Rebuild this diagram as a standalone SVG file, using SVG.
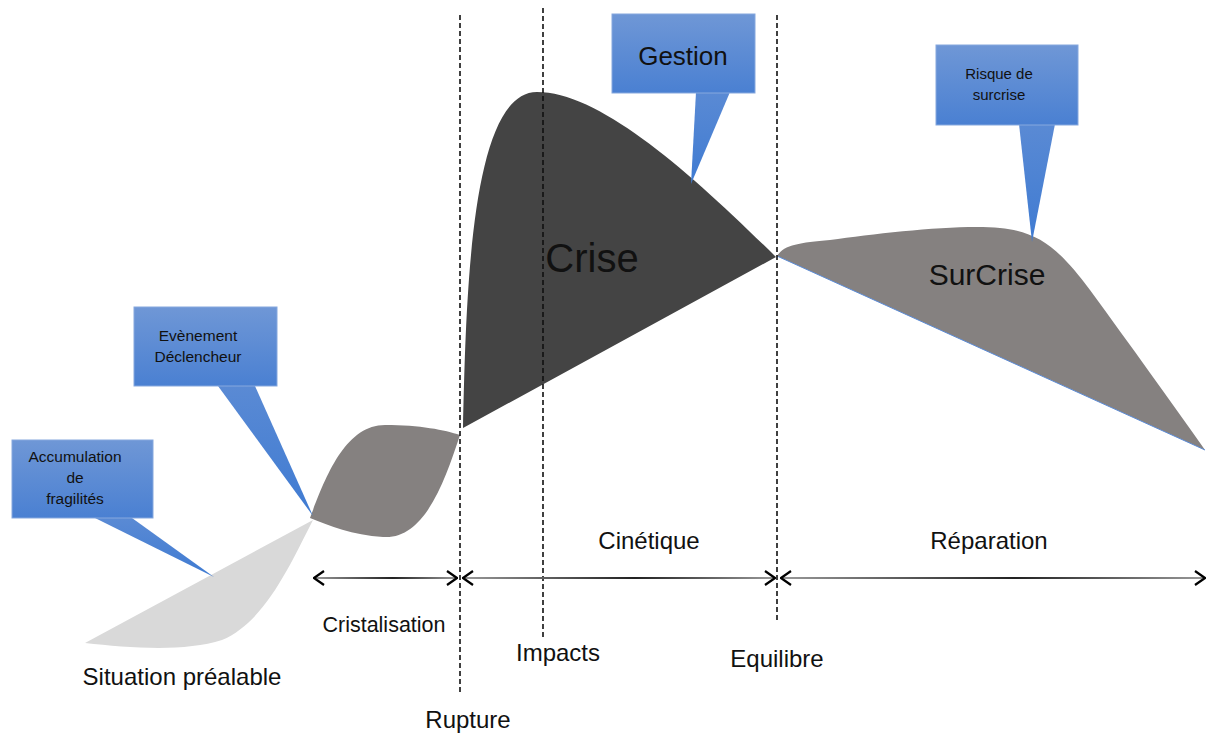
<svg xmlns="http://www.w3.org/2000/svg" width="1208" height="735" viewBox="0 0 1208 735">
<defs>
<linearGradient id="blue" x1="0" y1="0" x2="0" y2="1">
<stop offset="0" stop-color="#6f97d6"/>
<stop offset="1" stop-color="#4a80d2"/>
</linearGradient>
<linearGradient id="blueP" x1="0" y1="0" x2="0" y2="1">
<stop offset="0" stop-color="#5a8ad4"/>
<stop offset="1" stop-color="#3f7bd2"/>
</linearGradient>
<linearGradient id="arr1" gradientUnits="userSpaceOnUse" x1="314" y1="0" x2="457" y2="0">
<stop offset="0" stop-color="#999"/><stop offset="0.55" stop-color="#222"/><stop offset="1" stop-color="#999"/>
</linearGradient>
<linearGradient id="arr2" gradientUnits="userSpaceOnUse" x1="463" y1="0" x2="775" y2="0">
<stop offset="0" stop-color="#999"/><stop offset="0.55" stop-color="#222"/><stop offset="1" stop-color="#999"/>
</linearGradient>
<linearGradient id="arr3" gradientUnits="userSpaceOnUse" x1="781" y1="0" x2="1205" y2="0">
<stop offset="0" stop-color="#999"/><stop offset="0.55" stop-color="#222"/><stop offset="1" stop-color="#999"/>
</linearGradient>
<marker id="chev" viewBox="0 0 12 16" refX="11" refY="8" markerWidth="12" markerHeight="16" markerUnits="userSpaceOnUse" orient="auto-start-reverse">
<path d="M1,1 L11,8 L1,15" fill="none" stroke="#000" stroke-width="2.2"/>
</marker>
</defs>
<style>
.lbl{font-family:"Liberation Sans",Arial,sans-serif;fill:#111;text-anchor:middle}
.box{fill:url(#blue);stroke:#86a8de;stroke-width:1}
.ptr{fill:url(#blueP)}
.dash{stroke:#111;stroke-width:1.6;stroke-dasharray:5,3;fill:none}
.span{stroke-width:2;fill:none}
</style>
<rect width="1208" height="735" fill="#fff"/>

<g id="situation">
<path d="M85,643 L313,520 C290,565 265,622 222,640 C185,652 130,648 85,643 Z" fill="#d9d9d9"/>
<text class="lbl" x="182" y="685" font-size="24">Situation préalable</text>
</g>

<g id="cristalisation-shape">
<path d="M310,518 C325,478 345,425 385,425 C420,425 445,430 460,435 C445,480 425,540 383,537 C352,535 330,526 310,518 Z" fill="#858180"/>
</g>

<g id="crise">
<path d="M463,428 C466,300 470,92 537,92 C600,92 690,172 776,257 Z" fill="#444444"/>
<text class="lbl" x="592" y="272" font-size="40">Crise</text>
</g>

<g id="surcrise">
<path d="M777,256 C785,244 800,243 830,240 C880,233 960,224 1000,228 C1040,232 1060,250 1090,290 C1130,345 1170,400 1205,450 Z" fill="#858180"/>
<line x1="777" y1="256" x2="1205" y2="450" stroke="#5b8bd6" stroke-width="1"/>
<text class="lbl" x="987" y="285" font-size="30">SurCrise</text>
</g>

<g id="connectors">
<line class="dash" x1="460" y1="15" x2="460" y2="692"/>
<line class="dash" x1="543" y1="8" x2="543" y2="638"/>
<line class="dash" x1="777" y1="15" x2="777" y2="622"/>
<line class="span" stroke="url(#arr1)" x1="314" y1="578" x2="457" y2="578" marker-start="url(#chev)" marker-end="url(#chev)"/>
<line class="span" stroke="url(#arr2)" x1="463" y1="578" x2="775" y2="578" marker-start="url(#chev)" marker-end="url(#chev)"/>
<line class="span" stroke="url(#arr3)" x1="781" y1="578" x2="1205" y2="578" marker-start="url(#chev)" marker-end="url(#chev)"/>
</g>

<g id="callout-accumulation">
<path class="ptr" d="M95,518 L132,518 L214,577 Z"/>
<rect class="box" x="12" y="440" width="141" height="78"/>
<text class="lbl" font-size="15.5"><tspan x="75" y="462">Accumulation</tspan><tspan x="75" y="483">de</tspan><tspan x="75" y="504">fragilités</tspan></text>
</g>

<g id="callout-evenement">
<path class="ptr" d="M218,386 L255,386 L313,516 Z"/>
<rect class="box" x="134" y="307" width="143" height="79"/>
<text class="lbl" font-size="15.5"><tspan x="198" y="341">Evènement</tspan><tspan x="198" y="362">Déclencheur</tspan></text>
</g>

<g id="callout-gestion">
<path class="ptr" d="M696,92 L730,92 L691,184 Z"/>
<rect class="box" x="612" y="14" width="143" height="79"/>
<text class="lbl" x="683" y="65" font-size="26">Gestion</text>
</g>

<g id="callout-risque">
<path class="ptr" d="M1019,124 L1055,124 L1032,242 Z"/>
<rect class="box" x="936" y="45" width="142" height="80"/>
<text class="lbl" font-size="15"><tspan x="999" y="79">Risque de</tspan><tspan x="999" y="100">surcrise</tspan></text>
</g>

<g id="labels">
<text class="lbl" x="384" y="632" font-size="21.5">Cristalisation</text>
<text class="lbl" x="468" y="728" font-size="24">Rupture</text>
<text class="lbl" x="558" y="661" font-size="24">Impacts</text>
<text class="lbl" x="777" y="667" font-size="24">Equilibre</text>
<text class="lbl" x="649" y="549" font-size="24">Cinétique</text>
<text class="lbl" x="989" y="549" font-size="24">Réparation</text>
</g>
</svg>
